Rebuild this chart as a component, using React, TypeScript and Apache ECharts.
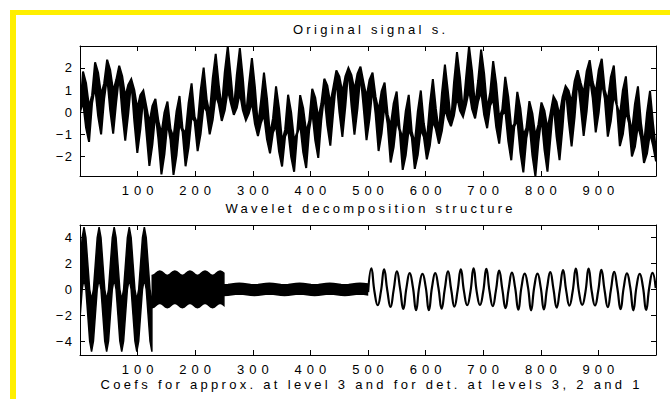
import React, { useEffect, useRef } from "react";
import * as echarts from "echarts";

// ---------- Top plot: original signal s (read as a dense band: centre line and half spread of the fast ripple) ----------
const SIG_X0 = 0;
const SIG_DX = 5.236;
const sigMid = [
  0, 1.16, 0.31, -0.55, 0.59, 1.71, 0.81, -0.11, 0.95, 1.99,
  1.0, -0.01, 0.95, 1.89, 0.81, -0.29, 0.59, 1.45, 0.31, -0.84,
  0, 0.84, -0.31, -1.45, -0.59, 0.29, -0.81, -1.89, -0.95, 0.01,
  -1.0, -1.99, -0.95, 0.11, -0.81, -1.71, -0.59, 0.55, -0.31, -1.16,
  0, 1.16, 0.31, -0.55, 0.59, 1.71, 0.81, -0.11, 0.95, 1.99,
  1.0, -0.01, 0.95, 1.89, 0.81, -0.29, 0.59, 1.45, 0.31, -0.84,
  0, 0.84, -0.31, -1.45, -0.59, 0.29, -0.81, -1.89, -0.95, 0.01,
  -1.0, -1.99, -0.95, 0.11, -0.81, -1.71, -0.59, 0.55, -0.31, -1.16,
  0, 1.16, 0.31, -0.55, 0.59, 1.71, 0.81, -0.11, 0.95, 1.99,
  1.0, -0.01, 0.95, 1.89, 0.81, -0.29, 0.59, 1.45, 0.31, -0.84,
  0, 0.84, -0.31, -1.45, -0.59, 0.29, -0.81, -1.89, -0.95, 0.01,
  -1.0, -1.99, -0.95, 0.11, -0.81, -1.71, -0.59, 0.55, -0.31, -1.16,
  0, 1.16, 0.31, -0.55, 0.59, 1.71, 0.81, -0.11, 0.95, 1.99,
  1.0, -0.01, 0.95, 1.89, 0.81, -0.29, 0.59, 1.45, 0.31, -0.84,
  0, 0.84, -0.31, -1.45, -0.59, 0.29, -0.81, -1.89, -0.95, 0.01,
  -1.0, -1.99, -0.95, 0.11, -0.81, -1.71, -0.59, 0.55, -0.31, -1.16,
  0, 1.16, 0.31, -0.55, 0.59, 1.71, 0.81, -0.11, 0.95, 1.99,
  1.0, -0.01, 0.95, 1.89, 0.81, -0.29, 0.59, 1.45, 0.31, -0.84,
  0, 0.84, -0.31, -1.45, -0.59, 0.29, -0.81, -1.89, -0.95, 0.01,
  -1.0, -1.99,
];
const sigHalf = [
  0, 0.68, 1.0, 0.79, 0.18, 0.54, 0.97, 0.89, 0.35, 0.38,
  0.91, 0.96, 0.5, 0.21, 0.82, 0.99, 0.65, 0.04, 0.7, 1.0,
  0.77, 0.14, 0.57, 0.97, 0.87, 0.31, 0.41, 0.92, 0.94, 0.47,
  0.25, 0.84, 0.99, 0.62, 0.07, 0.73, 1.0, 0.75, 0.1, 0.6,
  0.98, 0.85, 0.27, 0.45, 0.93, 0.93, 0.44, 0.28, 0.86, 0.98,
  0.59, 0.11, 0.75, 1.0, 0.72, 0.07, 0.63, 0.99, 0.83, 0.24,
  0.48, 0.95, 0.92, 0.41, 0.32, 0.88, 0.97, 0.56, 0.15, 0.78,
  1.0, 0.7, 0.03, 0.66, 0.99, 0.81, 0.2, 0.51, 0.96, 0.9,
  0.37, 0.35, 0.89, 0.96, 0.53, 0.18, 0.8, 1.0, 0.67, 0.01,
  0.68, 1.0, 0.79, 0.17, 0.54, 0.97, 0.88, 0.34, 0.39, 0.91,
  0.95, 0.5, 0.22, 0.82, 0.99, 0.64, 0.05, 0.71, 1.0, 0.77,
  0.13, 0.57, 0.98, 0.87, 0.3, 0.42, 0.92, 0.94, 0.46, 0.26,
  0.84, 0.99, 0.61, 0.08, 0.74, 1.0, 0.74, 0.09, 0.6, 0.98,
  0.85, 0.27, 0.46, 0.94, 0.93, 0.43, 0.29, 0.86, 0.98, 0.58,
  0.12, 0.76, 1.0, 0.72, 0.06, 0.63, 0.99, 0.83, 0.23, 0.49,
  0.95, 0.91, 0.4, 0.33, 0.88, 0.97, 0.55, 0.16, 0.78, 1.0,
  0.69, 0.02, 0.66, 0.99, 0.81, 0.19, 0.52, 0.96, 0.9, 0.36,
  0.36, 0.9, 0.96, 0.52, 0.19, 0.81, 0.99, 0.66, 0.02, 0.69,
  1.0, 0.78, 0.16, 0.55, 0.97, 0.88, 0.33, 0.4, 0.91, 0.95,
  0.49, 0.23,
];

// ---------- Bottom plot: wavelet decomposition structure ----------
// approximation at level 3 (coefs 1..125): dense band, centre + spread
const CA3_X0 = 0.4375;
const CA3_DX = 3.2725;
const cA3Mid = [
  0, 2.0, 2.82, 2.0, 0, -2.0, -2.82, -2.0,
  0, 2.0, 2.82, 2.0, 0, -2.0, -2.82, -2.0,
  0, 2.0, 2.82, 2.0, 0, -2.0, -2.82, -2.0,
  0, 2.0, 2.82, 2.0, 0, -2.0, -2.82, -2.0,
  0, 2.0, 2.82, 2.0, 0, -2.0, -2.82,
];
const cA3Half = 2.0;

// detail at level 3 (coefs 126..250)
const CD3_X0 = 125.4375;
const CD3_DX = 3.2725;
const cD3Mid = [
  -0.17, -0.12, 0, 0.12, 0.17, 0.12, 0, -0.12,
  -0.17, -0.12, 0, 0.12, 0.17, 0.12, 0, -0.12,
  -0.17, -0.12, 0, 0.12, 0.17, 0.12, 0, -0.12,
  -0.17, -0.12, 0, 0.12, 0.17, 0.12, 0, -0.12,
  -0.17, -0.12, 0, 0.12, 0.17, 0.12, 0,
];
const cD3Half = 1.25;

// detail at level 2 (coefs 251..500)
const CD2_X0 = 250.375;
const CD2_DX = 6.545;
const cD2Mid = [
  -0.06, -0.04, 0, 0.04, 0.06, 0.04, 0, -0.04,
  -0.06, -0.04, 0, 0.04, 0.06, 0.04, 0, -0.04,
  -0.06, -0.04, 0, 0.04, 0.06, 0.04, 0, -0.04,
  -0.06, -0.04, 0, 0.04, 0.06, 0.04, 0, -0.04,
  -0.06, -0.04, 0, 0.04, 0.06, 0.04, 0,
];
const cD2Half = 0.42;

// detail at level 1 (coefs 501..1000): a clean oscillation
const CD1_X0 = 500.25;
const CD1_DX = 5.547;
const cD1 = [
  -0.21, 1.62, -0.2, -1.23, -0.16, 1.54, -0.09, -1.36, -0.02, 1.39,
  0.06, -1.51, 0.13, 1.25, 0.18, -1.61, 0.21, 1.2, 0.21, -1.61,
  0.18, 1.26, 0.12, -1.5, 0.05, 1.4, -0.03, -1.34, -0.1, 1.55,
  -0.16, -1.23, -0.2, 1.62, -0.21, -1.21, -0.19, 1.58, -0.15, -1.3,
  -0.08, 1.45, 0.0, -1.45, 0.07, 1.3, 0.14, -1.58, 0.19, 1.21,
  0.21, -1.62, 0.2, 1.22, 0.17, -1.55, 0.11, 1.34, 0.03, -1.41,
  -0.04, 1.49, -0.12, -1.26, -0.17, 1.6, -0.21, -1.2, -0.21, 1.61,
  -0.19, -1.25, -0.13, 1.51, -0.07, -1.38, 0.01, 1.36, 0.09, -1.53,
  0.15, 1.24, 0.2, -1.62, 0.21, 1.2, 0.2, -1.59, 0.16, 1.28,
  0.1,
];

// axes
const X_MIN = 0;
const X_MAX = 1000;
const TOP_Y = [-2.88, 2.99];
const BOT_Y = [-5.08, 4.98];

const TITLE_TOP = "Original signal s.";
const TITLE_BOTTOM = "Wavelet decomposition structure";
const XLABEL_BOTTOM = "Coefs for approx. at level 3 and for det. at levels 3, 2 and 1";

const FONT = '"Liberation Sans", Arial, Helvetica, sans-serif';

function xsOf(x0: number, dx: number, n: number) {
  const out: number[] = [];
  for (let i = 0; i < n; i++) out.push(x0 + i * dx);
  return out;
}

// a dense band (the look of a line oscillating faster than one pixel), drawn as one polygon
// from rows [x, low, high] through the axis scales
function band(xs: number[], mid: number[], half: number[] | number, axis: number, edge: number) {
  const h = (i: number) => (Array.isArray(half) ? half[i] : half);
  const rows = xs.map((x, i) => [x, mid[i] - h(i), mid[i] + h(i)]);
  return {
    type: "custom",
    xAxisIndex: axis,
    yAxisIndex: axis,
    clip: true,
    silent: true,
    data: rows,
    encode: { x: 0, y: [1, 2] },
    renderItem: (params: any, api: any) => {
      if (params.dataIndex !== 0) return null;
      const up = rows.map((r) => api.coord([r[0], r[2]]));
      const lo = rows.map((r) => api.coord([r[0], r[1]])).reverse();
      return {
        type: "polygon",
        shape: { points: up.concat(lo) },
        style: { fill: "#000", stroke: "#000", lineWidth: edge, lineJoin: "miter", miterLimit: 3 },
      };
    },
  };
}

function xAxes(grid: number) {
  const base: any = {
    type: "value",
    gridIndex: grid,
    min: X_MIN,
    max: X_MAX,
    interval: 100,
    z: 5,
    splitLine: { show: false },
    axisLine: { show: true, onZero: false, lineStyle: { color: "#000", width: 1 } },
    axisTick: { show: true, inside: true, length: 5, lineStyle: { color: "#000", width: 1 } },
  };
  return [
    {
      ...base,
      position: "bottom",
      axisLabel: {
        show: true,
        margin: 8,
        color: "#000",
        fontSize: 13,
        fontFamily: FONT,
        showMinLabel: false,
        showMaxLabel: false,
        formatter: (v: number) => (v <= X_MIN || v >= X_MAX ? "" : String(v)),
      },
    },
    { ...base, position: "top", axisLabel: { show: false } },
  ];
}

function yAxes(grid: number, range: number[], split: number) {
  const base: any = {
    type: "value",
    gridIndex: grid,
    min: range[0],
    max: range[1],
    splitNumber: split,
    z: 5,
    splitLine: { show: false },
    axisLine: { show: true, onZero: false, lineStyle: { color: "#000", width: 1 } },
    axisTick: { show: true, inside: true, length: 5, lineStyle: { color: "#000", width: 1 } },
  };
  return [
    {
      ...base,
      position: "left",
      axisLabel: {
        show: true,
        margin: 8,
        color: "#000",
        fontSize: 13,
        fontFamily: FONT,
        showMinLabel: false,
        showMaxLabel: false,
        formatter: (v: number) => (v < 0 ? "\u2212" + String(-v) : String(v)),
      },
    },
    { ...base, position: "right", axisLabel: { show: false } },
  ];
}

export default function App() {
  const ref = useRef<HTMLDivElement>(null);

  useEffect(() => {
    const el = ref.current;
    if (!el) return;
    const chart = echarts.init(el, undefined, { renderer: "svg" });

    const series: any[] = [
      band(xsOf(SIG_X0, SIG_DX, sigMid.length), sigMid, sigHalf, 0, 2),
      band(xsOf(CA3_X0, CA3_DX, cA3Mid.length), cA3Mid, cA3Half, 2, 1.5),
      band(xsOf(CD3_X0, CD3_DX, cD3Mid.length), cD3Mid, cD3Half, 2, 1.5),
      band(xsOf(CD2_X0, CD2_DX, cD2Mid.length), cD2Mid, cD2Half, 2, 1.5),
      {
        type: "line",
        xAxisIndex: 2,
        yAxisIndex: 2,
        symbol: "none",
        showSymbol: false,
        silent: true,
        smooth: true,
        lineStyle: { color: "#000", width: 2.2 },
        data: xsOf(CD1_X0, CD1_DX, cD1.length).map((x, i) => [x, cD1[i]]),
      },
    ];

    const textStyle = (text: string, x: number, y: number) => ({
      type: "text",
      x,
      y,
      silent: true,
      style: {
        text,
        fill: "#000",
        fontSize: 13,
        fontFamily: FONT,
        align: "center",
        verticalAlign: "middle",
        textAlign: "center",
        textVerticalAlign: "middle",
      },
    });

    chart.setOption({
      animation: false,
      backgroundColor: "#fff",
      grid: [
        { left: 80, top: 46, width: 576, height: 130, containLabel: false },
        { left: 80, top: 225, width: 576, height: 130, containLabel: false },
      ],
      xAxis: [...xAxes(0), ...xAxes(1)],
      yAxis: [...yAxes(0, TOP_Y, 6), ...yAxes(1, BOT_Y, 5)],
      series,
      graphic: [
        { type: "rect", shape: { x: 10, y: 10, width: 6, height: 400 }, style: { fill: "#FFEF00" }, silent: true },
        { type: "rect", shape: { x: 10, y: 10, width: 670, height: 5 }, style: { fill: "#FFEF00" }, silent: true },
        textStyle(TITLE_TOP, 369, 29),
        textStyle(TITLE_BOTTOM, 369, 208),
        textStyle(XLABEL_BOTTOM, 370, 384.5),
      ],
    });

    const applySpacing = () => {
      el.querySelectorAll("text").forEach((t) => {
        const s = (t.textContent || "").trim();
        const anchor = t.getAttribute("text-anchor");
        const numeric = /^[\u2212\-]?\d+$/.test(s);
        let sp = 3.3;
        if (numeric) sp = anchor === "end" ? 1.5 : 5;
        (t as SVGTextElement).style.letterSpacing = sp + "px";
        if (anchor === "middle") t.setAttribute("dx", String(sp / 2));
        else if (anchor === "end") t.setAttribute("dx", String(sp));
      });
    };
    applySpacing();
    chart.on("finished", applySpacing);

    return () => {
      chart.dispose();
    };
  }, []);

  return (
    <div
      ref={ref}
      style={{ position: "absolute", left: 0, top: 0, width: 670, height: 399, background: "#fff" }}
    />
  );
}
